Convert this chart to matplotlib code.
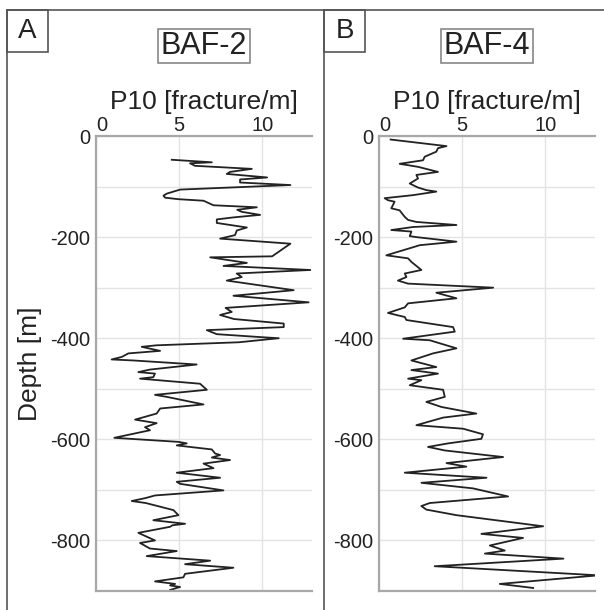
import matplotlib.pyplot as plt
from matplotlib.lines import Line2D
from matplotlib.patches import Rectangle

plt.rcParams['font.family'] = ['Liberation Sans', 'DejaVu Sans']
plt.rcParams['axes.unicode_minus'] = False

# Datos pozo BAF-2 (profundidad en m, P10 en fracturas/m)
depth_a = [-47, -52, -54, -59, -65, -71, -75, -82, -86, -92, -97, -106, -114, -118, -122,
           -125, -128, -137, -141, -146, -150, -156, -161, -165, -172, -181, -187, -196,
           -203, -213, -238, -240, -251, -257, -265, -272, -279, -286, -305, -316, -329,
           -340, -348, -354, -362, -371, -378, -384, -392, -398, -400, -408, -414, -417,
           -425, -430, -437, -442, -444, -452, -462, -467, -470, -477, -480, -490, -502,
           -512, -516, -531, -539, -549, -561, -568, -576, -582, -597, -605, -608, -612,
           -620, -628, -631, -636, -641, -648, -657, -666, -676, -684, -688, -701, -711,
           -716, -722, -726, -740, -750, -760, -767, -770, -773, -785, -800, -805, -816,
           -821, -831, -840, -847, -854, -866, -873, -881, -886, -889, -892, -898]
p10_a = [4.56, 6.97, 5.66, 5.96, 9.38, 8.07, 7.87, 10.3, 8.67, 8.67, 11.7, 5.06, 4.26, 4.06, 4.16,
         4.96, 6.47, 7.07, 9.68, 8.5, 8.77, 9.88, 8.27, 7.27, 7.27, 9.08, 8.47, 8.37,
         7.47, 11.7, 10.6, 6.87, 9.08, 7.67, 12.9, 8.47, 8.77, 7.87, 11.9, 8.27, 12.8,
         7.8, 8.17, 7.47, 8.3, 11.3, 11.3, 6.67, 7.27, 10.0, 11.0, 8.6, 3.65, 2.75,
         3.86, 1.95, 1.55, 0.94, 2.25, 6.06, 3.25, 2.55, 3.55, 3.45, 2.65, 6.26, 6.67,
         3.55, 4.26, 6.47, 3.86, 3.65, 2.35, 3.65, 2.95, 3.25, 1.1, 4.96, 5.46, 4.86,
         6.97, 7.17, 7.47, 6.97, 8.07, 6.47, 7.07, 4.86, 7.47, 4.86, 5.06, 7.67, 3.55,
         3.0, 2.15, 3.0, 4.66, 4.96, 3.45, 5.36, 4.6, 4.46, 2.55, 3.55, 2.65, 3.25,
         4.86, 3.05, 6.87, 5.36, 8.27, 5.36, 5.26, 3.55, 4.76, 4.46, 5.06, 4.46]

# Datos pozo BAF-4
depth_b = [-7, -13, -20, -24, -31, -41, -48, -55, -61, -71, -77, -84, -94, -102, -107, -110,
           -117, -123, -127, -130, -143, -147, -160, -166, -170, -176, -180, -186, -189,
           -198, -200, -209, -216, -222, -236, -242, -249, -265, -272, -279, -286, -292,
           -300, -310, -321, -331, -339, -350, -358, -364, -378, -387, -401, -404, -420,
           -430, -444, -457, -463, -470, -480, -483, -493, -502, -516, -526, -536, -549,
           -557, -572, -579, -590, -599, -608, -615, -622, -635, -647, -654, -666, -676,
           -686, -697, -713, -726, -732, -739, -750, -772, -787, -795, -810, -820, -826,
           -836, -851, -869, -886, -894]
p10_b = [0.70, 2.25, 4.06, 3.55, 3.45, 2.75, 2.65, 1.24, 2.35, 3.55, 2.25, 2.35, 1.85, 2.35, 2.85, 3.45,
         2.05, 0.34, 0.54, 0.94, 0.74, 1.24, 1.55, 1.75, 2.25, 4.66, 2.05, 0.74, 1.95,
         1.85, 2.25, 4.66, 2.45, 1.85, 0.44, 1.75, 1.95, 2.55, 1.55, 1.65, 1.14, 1.75,
         6.87, 3.45, 4.66, 1.75, 1.55, 0.54, 1.55, 1.65, 4.46, 4.56, 1.45, 3.05, 4.66,
         3.25, 1.95, 3.45, 1.95, 3.55, 1.75, 2.55, 1.85, 3.86, 3.96, 2.85, 3.76, 5.86,
         3.86, 2.25, 5.06, 6.26, 6.16, 4.16, 2.95, 3.96, 7.47, 4.06, 5.26, 1.55, 6.47,
         2.55, 5.66, 7.77, 3.05, 2.55, 2.85, 4.66, 9.88, 6.16, 8.67, 6.67, 7.57, 6.37,
         11.1, 3.35, 13.2, 7.27, 9.28]

x_ticks = [0, 5, 10]
y_ticks = [0, -200, -400, -600, -800]

W, H = 604, 610
fig = plt.figure(figsize=(W / 100, H / 100), dpi=100)


def px(x0, y0, x1, y1):
    # convierte pixeles (origen arriba-izquierda) a coordenadas de figura
    return [x0 / W, x1 / W], [1 - y0 / H, 1 - y1 / H]


def panel(left_px, depth, p10, wellname, letter, letter_x, show_ylabel):
    ax = fig.add_axes([left_px / W, 1 - 591 / H, 216 / W, 455 / H])
    ax.plot(p10, depth, color='#222222', lw=1.3)
    ax.set_xlim(0, 13)
    ax.set_ylim(-900, 0)
    ax.xaxis.tick_top()
    ax.xaxis.set_label_position('top')
    ax.set_xticks(x_ticks)
    ax.set_yticks(y_ticks)
    ax.set_yticks(range(-900, 0, 100), minor=True)
    ax.tick_params(which='both', length=0, labelsize=14.5, colors='#222222')
    ax.tick_params(axis='x', pad=1)
    ax.tick_params(axis='y', pad=4)
    ax.get_xticklabels()[0].set_ha('left')  # el 0 del eje x va corrido a la derecha
    ax.grid(which='both', color='#e3e3e3', lw=1)
    ax.set_axisbelow(True)
    for s in ['left', 'top', 'bottom']:
        ax.spines[s].set_color('#a8a8a8')
        ax.spines[s].set_linewidth(1.6)
    ax.spines['right'].set_visible(False)
    ax.set_xlabel('P10 [fracture/m]', fontsize=19, labelpad=5, color='#222222')
    if show_ylabel:
        ax.set_ylabel('Depth [m]', fontsize=19, labelpad=6, color='#222222')

    # caja con el nombre del pozo
    cx = (left_px + 108) / W
    fig.text(cx, 1 - 46 / H, wellname, fontsize=22, ha='center', va='center', color='#222222',
             bbox=dict(boxstyle='square,pad=0.08', fc='white', ec='#888888', lw=1.2))
    # caja con la letra del panel
    fig.add_artist(Rectangle((letter_x / W, 1 - 52 / H), 41 / W, 42 / H, transform=fig.transFigure,
                             fc='none', ec='#555555', lw=1.2))
    fig.text((letter_x + 20.5) / W, 1 - 31 / H, letter, fontsize=20, ha='center', va='center',
             color='#222222')
    return ax


panel(96, depth_a, p10_a, 'BAF-2', 'A', 7, True)
panel(379, depth_b, p10_b, 'BAF-4', 'B', 324, False)

# marco exterior
for x0, y0, x1, y1 in [(7, 10, 604, 10), (7, 10, 7, 610), (324, 10, 324, 610)]:
    xs, ys = px(x0, y0, x1, y1)
    fig.add_artist(Line2D(xs, ys, transform=fig.transFigure, color='#555555', lw=1.2))

plt.savefig('out.png', dpi=100)
